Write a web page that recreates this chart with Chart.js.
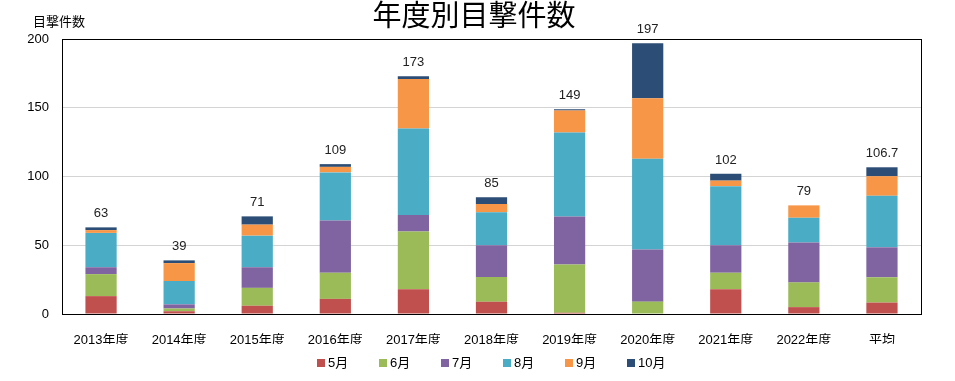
<!DOCTYPE html>
<html><head><meta charset="utf-8">
<script src="https://cdn.jsdelivr.net/npm/chart.js@4/dist/chart.umd.min.js"></script>
<style>html,body{margin:0;padding:0;background:#fff}#wrap{width:955px;height:381px}</style>
</head><body><div id="wrap"><canvas id="c" width="955" height="381"></canvas></div>
<script>
const categories = ["2013年度","2014年度","2015年度","2016年度","2017年度","2018年度","2019年度","2020年度","2021年度","2022年度","平均"];
const may  = [13, 2, 6, 11, 18, 9, 1, 0, 18, 5, 8.3];
const jun  = [16, 2, 13, 19, 42, 18, 35, 9, 12, 18, 18.4];
const jul  = [5, 3, 15, 38, 12, 23, 35, 38, 20, 29, 21.8];
const aug  = [25, 17, 23, 35, 63, 24, 61, 66, 43, 18, 37.5];
const sep  = [2, 13, 8, 4, 36, 6, 16, 44, 4, 9, 14.2];
const oct  = [2, 2, 6, 2, 2, 5, 1, 40, 5, 0, 6.5];
const totals = ["63","39","71","109","173","85","149","197","102","79","106.7"];
const yTicks = [0, 50, 100, 150, 200];
const seriesNames = ["5月","6月","7月","8月","9月","10月"];
const chartTitle = '年度別目撃件数';

const FONT = '"Liberation Sans", "Noto Sans CJK JP", sans-serif';
const colors = ["#C0504D","#9BBB59","#8064A2","#4BACC6","#F79646","#2C4D75"];
const seriesData = [may, jun, jul, aug, sep, oct];

const extras = {
  id: 'extras',
  afterDraw(chart) {
    const ctx = chart.ctx, a = chart.chartArea, ys = chart.scales.y;
    ctx.save();
    ctx.strokeStyle = '#000'; ctx.lineWidth = 1;
    ctx.strokeRect(Math.round(a.left)+0.5, Math.round(a.top)+0.5, Math.round(a.right-a.left), Math.round(a.bottom-a.top));
    // title
    ctx.fillStyle = '#000';
    ctx.font = '29px ' + FONT;
    ctx.textAlign = 'center'; ctx.textBaseline = 'middle';
    ctx.fillText(chartTitle, 474, 18);
    // totals
    ctx.fillStyle = '#222';
    ctx.font = '13px ' + FONT;
    ctx.textAlign = 'center'; ctx.textBaseline = 'bottom';
    chart.getDatasetMeta(0).data.forEach((bar, i) => {
      const t = parseFloat(totals[i]);
      ctx.fillText(totals[i], bar.x, ys.getPixelForValue(t) - 7);
    });
    // axis title
    ctx.fillStyle = '#000';
    ctx.font = '13px ' + FONT;
    ctx.textAlign = 'left'; ctx.textBaseline = 'middle';
    ctx.fillText('目撃件数', 33, 22);
    // legend
    const ly = 363;
    chart.data.datasets.forEach((ds, i) => {
      const x0 = 317 + i * 62;
      ctx.fillStyle = ds.backgroundColor;
      ctx.fillRect(x0, ly - 4, 8, 8);
      ctx.fillStyle = '#000';
      ctx.fillText(ds.label, x0 + 11, ly);
    });
    ctx.restore();
  }
};

new Chart(document.getElementById('c'), {
  type: 'bar',
  data: {
    labels: categories,
    datasets: seriesData.map((d, i) => ({
      label: seriesNames[i], data: d, backgroundColor: colors[i],
      borderWidth: 0, barPercentage: 0.8, categoryPercentage: 0.5
    }))
  },
  options: {
    responsive: false, animation: false,
    layout: { padding: { left: 10, right: 34, top: 39, bottom: 37 } },
    plugins: {
      title: { display: false },
      legend: { display: false },
      tooltip: { enabled: false }
    },
    scales: {
      x: { stacked: true,
        grid: { display: false },
        border: { color: '#000' },
        ticks: { color: '#000', font: { family: FONT, size: 13 }, padding: 11, maxRotation: 0 },
        afterFit(s) { s.height = 30; } },
      y: { stacked: true, min: 0, max: 200,
        afterBuildTicks(s) { s.ticks = yTicks.map(v => ({ value: v })); },
        grid: { color: '#d4d4d4', drawTicks: false },
        border: { color: '#000' },
        ticks: { color: '#000', font: { family: FONT, size: 13 }, padding: 13 },
        afterFit(s) { s.width = 52; } }
    }
  },
  plugins: [extras]
});
</script></body></html>
